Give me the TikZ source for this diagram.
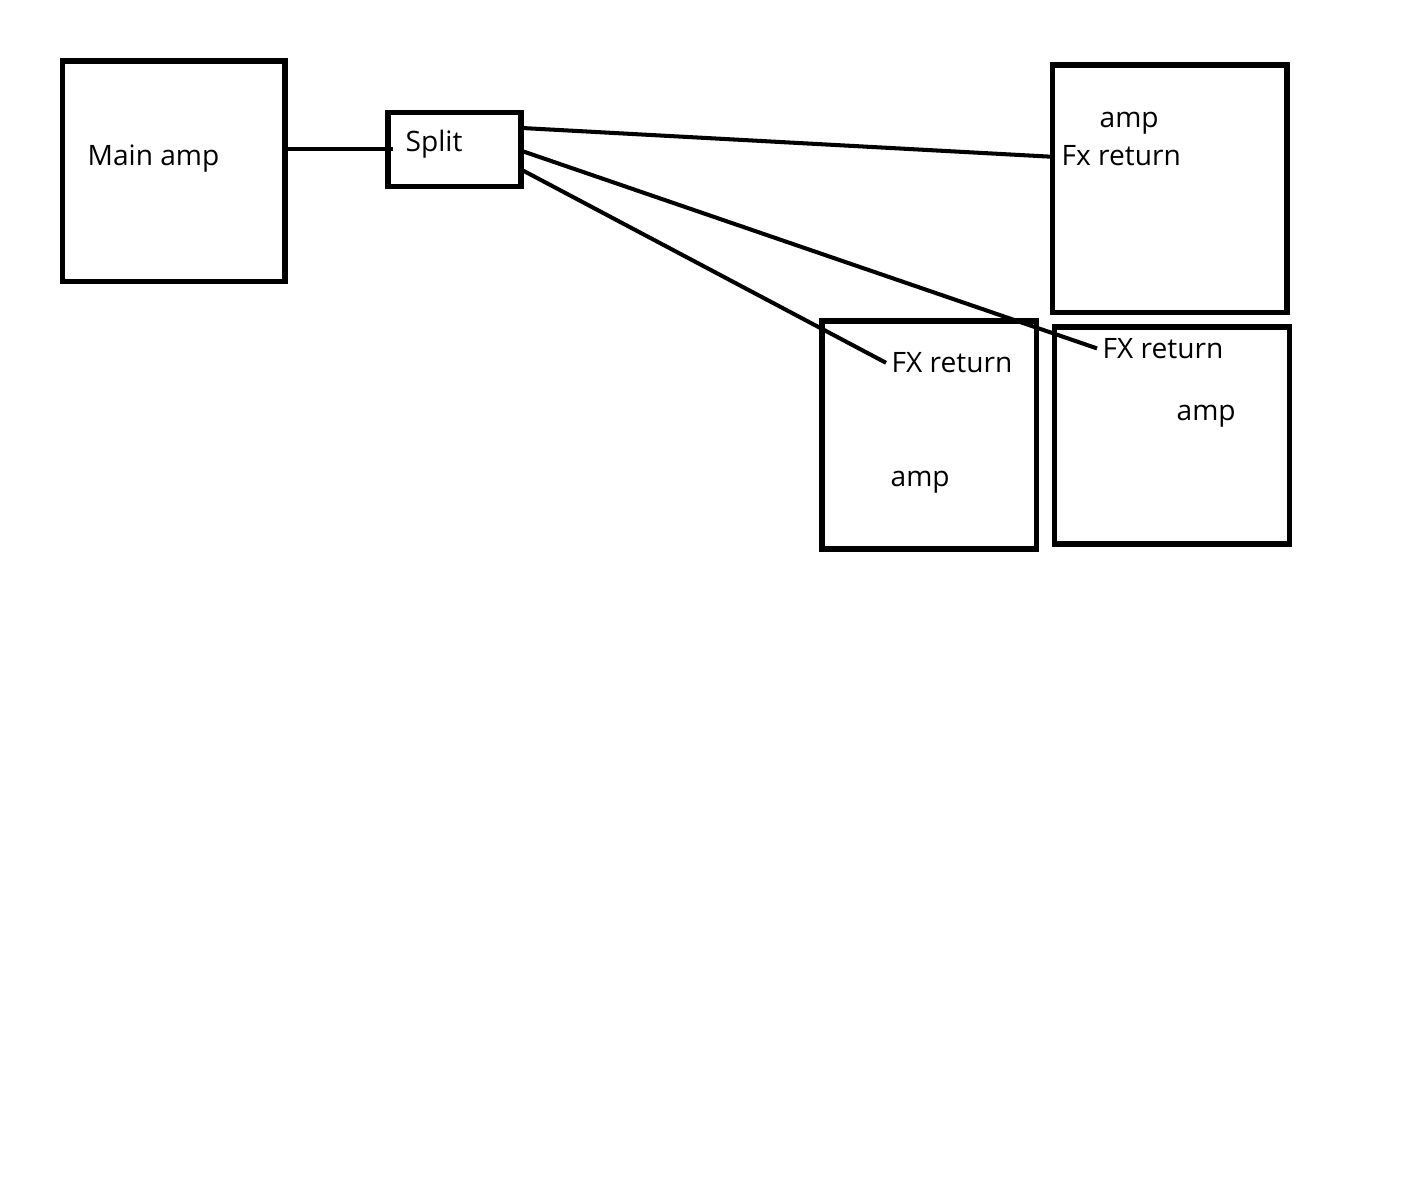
\documentclass[tikz,border=0pt]{standalone}
\usepackage{fontspec}
\setmainfont{Open Sans}
\tikzset{
    kasten/.style={draw, line width=1.45pt, inner sep=0pt},
    leitung/.style={line width=1.15pt},
    lbl/.style={anchor=base west, inner ysep=0pt, inner xsep=1.4pt, font=\fontsize{8}{9.6}\selectfont}
}
\begin{document}
\begin{tikzpicture}
        \useasboundingbox (0,0) rectangle (14.07,-11.92);
        % Kaesten
        \node[kasten, minimum width=2.225cm, minimum height=2.205cm] (main) at (1.7375,-1.7125) {};
        \node[kasten, minimum width=1.33cm, minimum height=0.74cm] (split) at (4.545,-1.495) {};
        \node[kasten, minimum width=2.345cm, minimum height=2.475cm] (ampA) at (11.6975,-1.8875) {};
        \node[kasten, minimum width=2.145cm, minimum height=2.28cm] (ampB) at (9.2925,-4.35) {};
        \node[kasten, minimum width=2.35cm, minimum height=2.17cm] (ampC) at (11.72,-4.355) {};
        % Beschriftungen
        \node[lbl] (mainlbl) at (0.82,-1.65) {Main amp};
        \node[lbl] (splitlbl) at (4.00,-1.517) {Split};
        \node[lbl] (ampAlbl) at (10.94,-1.277) {amp};
        \node[lbl] (fxA) at (10.56,-1.65) {Fx return};
        \node[lbl] (fxB) at (8.86,-3.727) {FX return};
        \node[lbl] (ampBlbl) at (8.85,-4.86) {amp};
        \node[lbl] (fxC) at (10.97,-3.583) {FX return};
        \node[lbl] (ampClbl) at (11.71,-4.207) {amp};
        % Leitungen
        \coordinate (mOut) at (2.87,-1.49);
        \coordinate (sIn) at (3.93,-1.49);
        \coordinate (sA) at (5.22,-1.28);
        \coordinate (sB) at (5.22,-1.51);
        \coordinate (sC) at (5.22,-1.70);
        \coordinate (inA) at (10.51,-1.567);
        \draw[leitung] (mOut) -- (sIn);
        \draw[leitung] (sA) -- (inA);
        \draw[leitung] (sB) -- (fxC.west);
        \draw[leitung] (sC) -- (fxB.west);
\end{tikzpicture}
\end{document}
